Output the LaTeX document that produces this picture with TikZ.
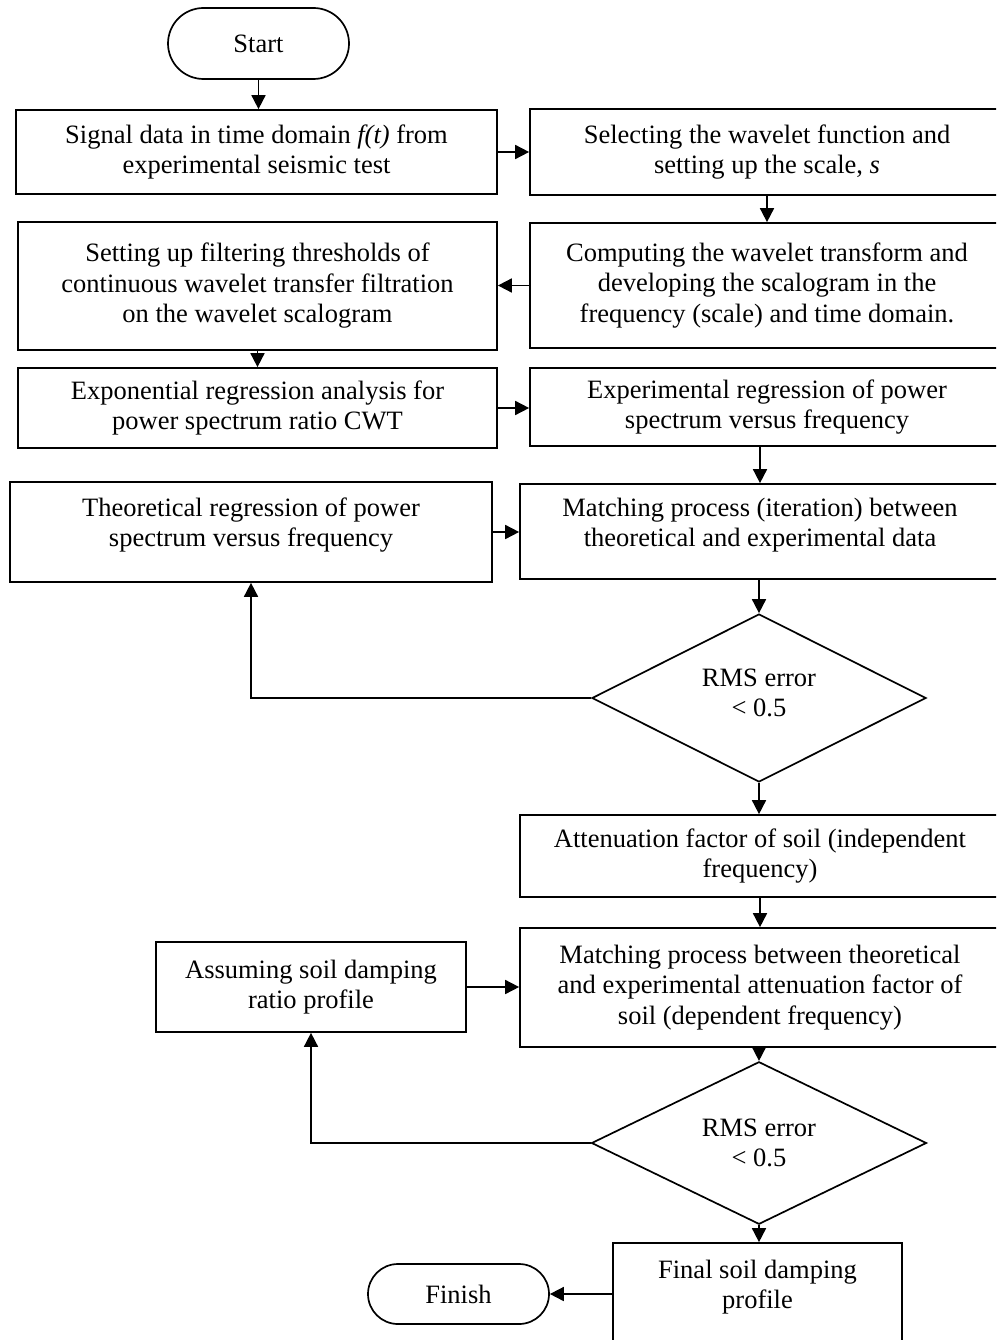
\documentclass[tikz,border=0pt]{standalone}
\usepackage{fontspec}
\setmainfont{Liberation Serif}
\usetikzlibrary{arrows.meta,shapes.geometric,shapes.misc}
\begin{document}
\begin{tikzpicture}[x=1pt,y=-1pt,
  font=\fontsize{26.5}{30.5}\selectfont,
  box/.style={draw, line width=1.7pt, rectangle, inner sep=0pt, align=center},
  plain/.style={inner sep=0pt, align=center},
  term/.style={draw, line width=1.7pt, rounded rectangle, inner sep=0pt, minimum width=181pt},
  dec/.style={draw, line width=1.7pt, diamond, inner sep=0pt, align=center},
  arr/.style={line width=1.7pt, -{Triangle[length=14pt,width=14pt]}}]
\useasboundingbox (0,0) rectangle (996,1340);
\fill[white] (0,0) rectangle (996,1340);
\clip (0,0) rectangle (996,1340);

\node[term, minimum height=71pt] (start) at (258.5,43.5) {Start};
\node[box, minimum width=481pt, minimum height=84pt] (b1) at (256.5,152)
  {Signal data in time domain \textit{f(t)} from\\experimental seismic test};
\node[box, minimum width=474pt, minimum height=86pt] (b2) at (767,152)
  {Selecting the wavelet function and\\setting up the scale, \textit{s}};
\node[box, minimum width=474pt, minimum height=125pt] (b3) at (767,285.5)
  {Computing the wavelet transform and\\developing the scalogram in the\\frequency (scale) and time domain.};
\node[box, minimum width=479pt, minimum height=128pt] (b4) at (257.5,286)
  {Setting up filtering thresholds of\\continuous wavelet transfer filtration\\on the wavelet scalogram};
\node[box, minimum width=479pt, minimum height=80pt] (b5) at (257.5,408)
  {Exponential regression analysis for\\power spectrum ratio CWT};
\node[box, minimum width=474pt, minimum height=78pt] (b6) at (767,407)
  {Experimental regression of power\\spectrum versus frequency};
\node[box, minimum width=480pt, minimum height=95pt] (b7) at (760,531.5) {};
\node[plain] (b7t) at (760,525) {Matching process (iteration) between\\theoretical and experimental data};
\node[box, minimum width=482pt, minimum height=100pt] (b8) at (251,532) {};
\node[plain] (b8t) at (251,525) {Theoretical regression of power\\spectrum versus frequency};
\node[dec, minimum width=334pt, minimum height=168pt] (d1) at (759,698) {};
\node[plain] (d1t) at (759,693) {RMS error\\< 0.5};
\node[box, minimum width=480pt, minimum height=82pt] (b9) at (760,856)
  {Attenuation factor of soil (independent\\frequency)};
\node[box, minimum width=480pt, minimum height=119pt] (b10) at (760,987.5)
  {Matching process between theoretical\\and experimental attenuation factor of\\soil (dependent frequency)};
\node[box, minimum width=310pt, minimum height=90pt] (b11) at (311,987)
  {Assuming soil damping\\ratio profile};
\node[dec, minimum width=335pt, minimum height=140pt] (d2) at (759,1143) {RMS error\\< 0.5};
\node[box, minimum width=289pt, minimum height=117pt] (b12) at (757.5,1301.5) {};
\node[plain] (b12t) at (757.5,1287) {Final soil damping\\profile};
\node[term, minimum height=60pt] (finish) at (458.5,1294) {Finish};

\draw[arr] (start.south) -- (start.south |- b1.north);
\draw[arr] (b1.east) -- (b2.west);
\draw[arr] (b2.south) -- (b3.north);
\draw[arr] (b3.west) -- (b3.west -| b4.east);
\draw[arr] (b4.south) -- (b5.north);
\draw[arr] (b5.east) -- (b5.east -| b6.west);
\draw[arr] (b7.north |- b6.south) -- (b7.north);
\draw[arr] (b8.east) -- (b8.east -| b7.west);
\draw[arr] (b7.south -| d1.north) -- (d1.north);
\draw[arr] (d1.west) -| (b8.south);
\draw[arr] (d1.south) -- (d1.south |- b9.north);
\draw[arr] (b9.south) -- (b10.north);
\draw[arr] (b11.east) -- (b11.east -| b10.west);
\draw[arr] (b10.south -| d2.north) -- (d2.north);
\draw[arr] (d2.west) -| (b11.south);
\draw[arr] (d2.south) -- (d2.south |- b12.north);
\draw[arr] (finish.east -| b12.west) -- (finish.east);
\end{tikzpicture}
\end{document}
